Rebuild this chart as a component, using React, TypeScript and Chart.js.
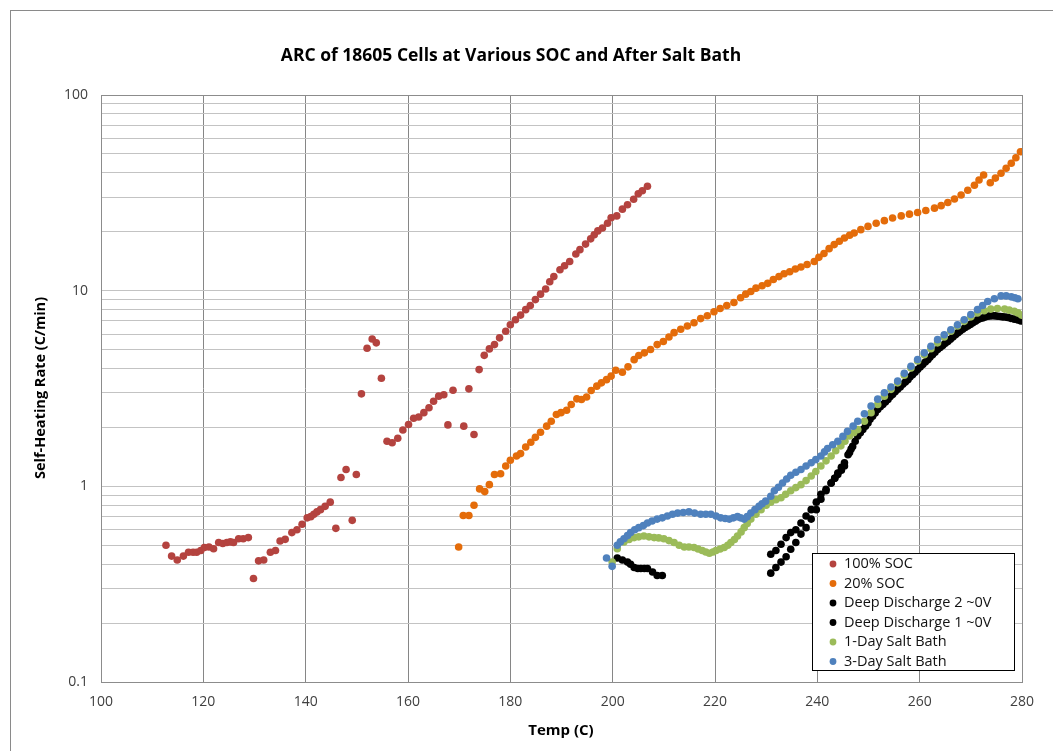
import React, { useEffect, useRef } from 'react';
import { Chart, registerables } from 'chart.js';

Chart.register(...registerables);

const W = 1053;
const H = 751;
const FONT = '"Open Sans", "DejaVu Sans", sans-serif';

const chartTitle = 'ARC of 18605 Cells at Various SOC and After Salt Bath';
const xAxisTitle = 'Temp (C)';
const yAxisTitle = 'Self-Heating Rate (C/min)';

const xTicks = [100, 120, 140, 160, 180, 200, 220, 240, 260, 280];
const yLabelValues = [0.1, 1, 10, 100];
const yLabelTexts = ['0.1', '1', '10', '100'];
const yGridValues = [
  0.1, 0.2, 0.3, 0.4, 0.5, 0.6, 0.7, 0.8, 0.9,
  1, 2, 3, 4, 5, 6, 7, 8, 9,
  10, 20, 30, 40, 50, 60, 70, 80, 90, 100,
];

// 100% SOC
const soc100X = [
  112.7, 113.8, 114.9, 116.1, 117.1, 118.0, 118.7, 119.5, 120.2, 121.1, 122.0, 123.0, 123.8, 124.6, 125.3,
  125.9, 126.9, 127.8, 128.8, 129.8, 130.8, 131.8, 133.1, 134.1, 135.0, 136.0, 137.3, 138.3, 139.3, 140.3,
  141.0, 141.6, 142.2, 142.9, 143.8, 144.8, 145.9, 146.9, 147.9, 149.1, 149.9, 150.9, 152.0, 153.0, 153.8,
  154.8, 155.9, 156.9, 158.0, 159.0, 160.1, 161.1, 162.1, 163.1, 164.1, 165.0, 166.0, 167.0, 167.8, 168.8,
  170.9, 171.9, 172.9, 173.9, 174.9, 175.9, 176.9, 177.9, 179.1, 180.0, 181.0, 182.0, 183.0, 183.9, 184.9,
  185.9, 186.9, 187.7, 188.5, 189.7, 190.6, 191.6, 192.8, 193.6, 194.7, 195.7, 196.4, 197.1, 198.0, 199.0,
  199.7, 200.8, 201.9, 202.9, 204.1, 205.0, 205.8, 206.8,
];
const soc100Y = [
  0.5, 0.44, 0.42, 0.44, 0.46, 0.46, 0.46, 0.47, 0.487, 0.49, 0.48, 0.516, 0.51, 0.516, 0.52,
  0.516, 0.54, 0.54, 0.547, 0.338, 0.416, 0.42, 0.46, 0.47, 0.526, 0.536, 0.58, 0.6, 0.64, 0.69,
  0.7, 0.72, 0.74, 0.76, 0.79, 0.83, 0.61, 1.11, 1.22, 0.67, 1.15, 2.97, 5.08, 5.66, 5.41,
  3.57, 1.7, 1.67, 1.76, 1.94, 2.07, 2.23, 2.26, 2.38, 2.52, 2.72, 2.89, 2.94, 2.06, 3.1,
  2.03, 3.15, 1.84, 3.95, 4.67, 5.04, 5.3, 5.74, 6.2, 6.7, 7.1, 7.5, 8.0, 8.4, 9.0,
  9.6, 10.2, 11.1, 11.8, 12.8, 13.4, 14.1, 15.4, 16.2, 17.3, 18.4, 19.3, 20.2, 20.9, 22.1,
  23.6, 24.1, 26.1, 27.5, 29.3, 31.3, 32.4, 34.2,
];

// 20% SOC
const soc20X = [
  169.9, 170.8, 171.9, 172.9, 174.0, 175.0, 175.9, 176.9, 178.1, 179.1, 180.0, 181.2, 182.0, 183.0, 184.0,
  184.9, 185.9, 187.1, 188.0, 189.0, 189.9, 191.0, 191.9, 193.0, 193.9, 194.9, 195.8, 196.9, 197.8, 198.8,
  199.7, 200.6, 201.9, 203.0, 204.2, 205.1, 206.2, 207.4, 208.7, 209.9, 211.0, 212.0, 213.3, 214.6, 215.9,
  217.2, 218.5, 219.8, 221.0, 222.3, 223.7, 225.0, 226.0, 227.0, 228.0, 229.2, 230.3, 231.4, 232.5, 233.5,
  234.6, 235.7, 236.8, 238.0, 239.4, 240.3, 241.3, 242.3, 243.3, 244.3, 245.3, 246.3, 247.2, 248.5, 249.9,
  251.5, 253.1, 254.7, 256.4, 258.0, 259.6, 261.2, 262.9, 264.2, 265.5, 266.8, 268.1, 269.4, 270.7, 271.6,
  272.5, 273.8, 274.8, 275.9, 276.9, 277.9, 278.8, 279.7,
];
const soc20Y = [
  0.49, 0.71, 0.71, 0.8, 0.97, 0.94, 1.02, 1.15, 1.16, 1.27, 1.36, 1.43, 1.47, 1.59, 1.68,
  1.78, 1.89, 2.03, 2.15, 2.33, 2.38, 2.45, 2.62, 2.8, 2.78, 2.86, 3.09, 3.25, 3.38, 3.51,
  3.66, 3.92, 3.83, 4.08, 4.44, 4.66, 4.81, 5.0, 5.3, 5.5, 5.8, 6.1, 6.35, 6.6, 6.85,
  7.2, 7.45, 7.8, 8.1, 8.4, 8.7, 9.2, 9.6, 9.9, 10.3, 10.6, 10.9, 11.4, 11.8, 12.2,
  12.5, 12.9, 13.2, 13.6, 14.1, 14.8, 15.5, 16.4, 17.2, 17.9, 18.6, 19.2, 19.7, 20.5, 21.3,
  22.1, 22.8, 23.5, 24.1, 24.6, 25.1, 25.7, 26.4, 27.2, 28.2, 29.4, 30.8, 32.6, 34.6, 36.8,
  39.0, 35.6, 37.6, 39.8, 42.2, 44.8, 47.8, 51.3,
];

// Deep Discharge 2 ~0V
const dd2X = [
  200.9, 201.9, 202.9, 203.5, 204.2, 204.9, 205.5, 206.2, 206.8, 207.8, 208.7, 209.7,
  230.9, 231.9, 232.9, 233.9, 234.8, 235.8, 236.8, 237.8, 238.8, 239.8, 240.7, 241.7, 242.7, 243.4,
  244.0, 244.7, 245.3, 246.3, 246.9, 247.9, 248.9, 249.9, 250.8, 251.8, 252.8, 253.8, 254.7, 255.7,
  256.7, 257.7, 258.6, 259.6, 260.6, 261.6, 262.5, 263.5, 264.5, 265.5, 266.5, 267.5, 268.4, 269.4,
  270.4, 271.3, 272.3, 273.3, 274.3, 275.3, 276.2, 277.2, 278.5, 279.8,
];
const dd2Y = [
  0.43, 0.42, 0.41, 0.4, 0.385, 0.38, 0.38, 0.38, 0.38, 0.365, 0.35, 0.35,
  0.45, 0.47, 0.506, 0.547, 0.58, 0.6, 0.65, 0.705, 0.76, 0.83, 0.91, 0.965, 1.04, 1.1,
  1.15, 1.21, 1.27, 1.49, 1.6, 1.81, 1.95, 2.11, 2.28, 2.47, 2.62, 2.78, 2.95, 3.13,
  3.32, 3.51, 3.72, 3.95, 4.2, 4.44, 4.7, 5.0, 5.25, 5.5, 5.8, 6.1, 6.35, 6.6,
  6.85, 7.1, 7.25, 7.4, 7.45, 7.4, 7.35, 7.3, 7.15, 7.0,
];

// Deep Discharge 1 ~0V
const dd1X = [
  230.9, 231.9, 232.9, 233.9, 234.8, 235.8, 236.8, 237.8, 238.8, 239.8, 240.7, 241.7, 242.7, 243.4,
  244.0, 244.7, 245.3, 246.0, 246.6, 247.4, 248.4, 249.4, 250.3, 251.3, 252.3, 253.3, 254.2, 255.2,
  256.2, 257.2, 258.1, 259.1, 260.1, 261.1, 262.0, 263.0, 264.0, 265.0, 266.0, 267.0, 267.9, 268.9,
  269.9, 270.9, 271.8, 272.8, 273.8, 274.8, 275.8, 276.7, 277.8, 279.2,
];
const dd1Y = [
  0.36, 0.385, 0.41, 0.437, 0.477, 0.516, 0.57, 0.615, 0.68, 0.76, 0.86, 0.95, 1.04, 1.1,
  1.17, 1.25, 1.32, 1.45, 1.55, 1.7, 1.88, 2.03, 2.2, 2.37, 2.55, 2.7, 2.87, 3.04,
  3.22, 3.41, 3.62, 3.83, 4.07, 4.32, 4.57, 4.85, 5.12, 5.38, 5.65, 5.95, 6.22, 6.48,
  6.72, 6.98, 7.2, 7.33, 7.43, 7.43, 7.38, 7.33, 7.22, 7.08,
];

// 1-Day Salt Bath
const day1X = [
  199.9, 200.9, 202.2, 203.2, 204.2, 205.1, 206.1, 207.1, 208.1, 209.0, 210.0, 211.0, 212.0, 213.0, 214.0,
  214.9, 215.9, 216.7, 217.5, 218.2, 218.9, 219.6, 220.2, 221.0, 221.8, 222.5, 223.1, 223.8, 224.4, 225.1,
  225.7, 226.3, 227.0, 228.0, 229.0, 230.0, 230.9, 231.9, 232.9, 233.8, 234.8, 235.8, 236.8, 237.8, 238.8,
  239.7, 240.7, 241.7, 242.7, 243.6, 244.6, 245.4, 246.3, 247.1, 247.9, 249.2, 250.5, 251.8, 253.1, 254.4,
  255.7, 257.0, 258.3, 259.6, 260.9, 262.2, 263.5, 264.8, 266.1, 267.4, 268.7, 270.0, 271.3, 272.6, 273.9,
  275.2, 276.6, 277.5, 278.5, 279.2, 279.9,
];
const day1Y = [
  0.41, 0.48, 0.52, 0.535, 0.547, 0.552, 0.557, 0.552, 0.547, 0.545, 0.54, 0.528, 0.516, 0.5, 0.49,
  0.49, 0.487, 0.478, 0.47, 0.462, 0.455, 0.462, 0.47, 0.478, 0.487, 0.5, 0.516, 0.535, 0.557, 0.585,
  0.615, 0.645, 0.68, 0.72, 0.76, 0.8, 0.83, 0.855, 0.875, 0.91, 0.95, 0.985, 1.02, 1.07, 1.13,
  1.19, 1.27, 1.35, 1.43, 1.52, 1.61, 1.7, 1.81, 1.88, 1.95, 2.15, 2.38, 2.62, 2.89, 3.13,
  3.38, 3.7, 4.03, 4.37, 4.71, 5.05, 5.41, 5.8, 6.2, 6.6, 6.97, 7.35, 7.7, 7.9, 8.05,
  8.1, 8.05, 7.95, 7.84, 7.7, 7.5,
];

// 3-Day Salt Bath
const day3X = [
  198.8, 199.9, 200.9, 201.5, 202.2, 202.9, 203.5, 204.3, 205.1, 206.0, 206.8, 207.7, 208.7, 209.7, 210.7,
  211.7, 212.7, 213.8, 214.9, 216.0, 217.2, 218.2, 219.2, 220.2, 221.1, 222.0, 222.8, 223.6, 224.4, 225.0,
  225.7, 226.3, 227.0, 227.8, 228.6, 229.2, 229.9, 230.9, 231.6, 232.4, 233.2, 234.0, 234.8, 235.8, 236.8,
  237.8, 238.8, 239.7, 240.7, 241.4, 242.0, 243.0, 244.0, 245.0, 245.9, 247.0, 247.9, 249.2, 250.5, 251.8,
  253.1, 254.4, 255.7, 257.0, 258.3, 259.6, 260.9, 262.2, 263.5, 264.8, 266.1, 267.4, 268.7, 270.0, 271.3,
  272.3, 273.3, 274.6, 275.9, 276.9, 277.9, 278.6, 279.2,
];
const day3Y = [
  0.43, 0.39, 0.5, 0.52, 0.54, 0.56, 0.58, 0.6, 0.615, 0.63, 0.65, 0.665, 0.68, 0.69, 0.705,
  0.72, 0.73, 0.735, 0.74, 0.73, 0.72, 0.72, 0.72, 0.705, 0.69, 0.685, 0.68, 0.69, 0.7, 0.69,
  0.68, 0.7, 0.73, 0.76, 0.79, 0.815, 0.84, 0.89, 0.95, 0.99, 1.04, 1.09, 1.14, 1.18, 1.22,
  1.27, 1.32, 1.37, 1.43, 1.5, 1.56, 1.63, 1.7, 1.8, 1.91, 2.03, 2.15, 2.35, 2.57, 2.79,
  3.01, 3.22, 3.45, 3.78, 4.11, 4.45, 4.81, 5.2, 5.62, 5.95, 6.31, 6.7, 7.1, 7.55, 8.0,
  8.4, 8.8, 9.1, 9.4, 9.4, 9.3, 9.2, 9.1,
];

const seriesLabels = [
  '100% SOC',
  '20% SOC',
  'Deep Discharge 2 ~0V',
  'Deep Discharge 1 ~0V',
  '1-Day Salt Bath',
  '3-Day Salt Bath',
];
const seriesColors = ['#B4433F', '#E46C0A', '#000000', '#000000', '#9BBB59', '#4F81BD'];
const seriesX = [soc100X, soc20X, dd2X, dd1X, day1X, day3X];
const seriesY = [soc100Y, soc20Y, dd2Y, dd1Y, day1Y, day3Y];

const decorPlugin = {
  id: 'decor',
  beforeDraw(chart: any) {
    const { ctx } = chart;
    ctx.save();
    ctx.fillStyle = '#ffffff';
    ctx.fillRect(0, 0, chart.width, chart.height);
    ctx.strokeStyle = '#8a8a8a';
    ctx.lineWidth = 1;
    ctx.strokeRect(10.5, 10.5, 1060, 800);
    ctx.restore();
  },
  beforeDatasetsDraw(chart: any) {
    const { ctx, chartArea: a } = chart;
    ctx.save();
    ctx.strokeStyle = '#8c8c8c';
    ctx.lineWidth = 1;
    ctx.strokeRect(Math.round(a.left) + 0.5, Math.round(a.top) + 0.5, Math.round(a.right - a.left), Math.round(a.bottom - a.top));
    ctx.restore();
  },
  afterDraw(chart: any) {
    const { ctx } = chart;
    ctx.save();
    ctx.fillStyle = '#000000';
    ctx.textAlign = 'center';
    ctx.textBaseline = 'middle';
    ctx.font = `bold 17.5px ${FONT}`;
    ctx.fillText(chartTitle, 511, 56);

    ctx.font = `bold 15px ${FONT}`;
    ctx.fillText(xAxisTitle, 561, 731);

    ctx.save();
    ctx.translate(41, 388);
    ctx.rotate(-Math.PI / 2);
    ctx.font = `bold 14.5px ${FONT}`;
    ctx.fillText(yAxisTitle, 0, 0);
    ctx.restore();

    // legend
    const lx = 812, ly = 553, lw = 202, lh = 117;
    ctx.fillStyle = '#ffffff';
    ctx.fillRect(lx, ly, lw, lh);
    ctx.strokeStyle = '#000000';
    ctx.lineWidth = 1;
    ctx.strokeRect(lx + 0.5, ly + 0.5, lw, lh);
    ctx.textAlign = 'left';
    ctx.font = `14.5px ${FONT}`;
    seriesLabels.forEach((lab, i) => {
      const y = ly + 11 + i * 19.5;
      ctx.fillStyle = seriesColors[i];
      ctx.beginPath();
      ctx.arc(lx + 21, y, 3.4, 0, Math.PI * 2);
      ctx.fill();
      ctx.fillStyle = '#111111';
      ctx.fillText(lab, lx + 32, y);
    });
    ctx.restore();
  },
};

export default function App() {
  const ref = useRef<HTMLCanvasElement>(null);
  useEffect(() => {
    const canvas = ref.current;
    if (!canvas) return;
    const datasets = seriesLabels.map((label, i) => ({
      label,
      data: seriesX[i].map((x, j) => ({ x, y: seriesY[i][j] })),
      backgroundColor: seriesColors[i],
      borderColor: seriesColors[i],
      pointRadius: 3.8,
      pointHoverRadius: 3.8,
      pointBorderWidth: 0,
      showLine: false,
      order: seriesLabels.length - 1 - i,
    }));
    const chart = new Chart(canvas, {
      type: 'scatter',
      data: { datasets },
      options: {
        responsive: false,
        animation: false,
        events: [],
        layout: { padding: { left: 0, right: 31, top: 95, bottom: 0 } },
        plugins: {
          legend: { display: false },
          title: { display: false },
          tooltip: { enabled: false },
        },
        scales: {
          x: {
            type: 'linear',
            min: 100,
            max: 280,
            afterBuildTicks: (s: any) => {
              s.ticks = xTicks.map((v) => ({ value: v }));
            },
            afterFit: (s: any) => {
              s.height = 69;
            },
            ticks: {
              autoSkip: false,
              maxRotation: 0,
              padding: 12,
              color: '#404040',
              font: { family: FONT, size: 14 },
              callback: (v: any) => String(v),
            },
            grid: { color: '#868686', lineWidth: 1, drawTicks: false },
            border: { display: true, color: '#8c8c8c' },
          },
          y: {
            type: 'logarithmic',
            min: 0.1,
            max: 100,
            afterBuildTicks: (s: any) => {
              s.ticks = yGridValues.map((v) => ({ value: v }));
            },
            afterFit: (s: any) => {
              s.width = 101;
            },
            ticks: {
              autoSkip: false,
              padding: 13,
              color: '#404040',
              font: { family: FONT, size: 14 },
              callback: (v: any) => {
                const k = yLabelValues.findIndex((d) => Math.abs(d - v) < 1e-9);
                return k >= 0 ? yLabelTexts[k] : '';
              },
            },
            grid: { color: '#c3c3c3', lineWidth: 1, drawTicks: false },
            border: { display: true, color: '#8c8c8c' },
          },
        },
      },
      plugins: [decorPlugin],
    } as any);
    return () => chart.destroy();
  }, []);
  return (
    <div style={{ position: 'fixed', left: 0, top: 0, width: W, height: H, background: '#fff' }}>
      <canvas ref={ref} width={W} height={H} style={{ width: W, height: H, display: 'block' }} />
    </div>
  );
}
